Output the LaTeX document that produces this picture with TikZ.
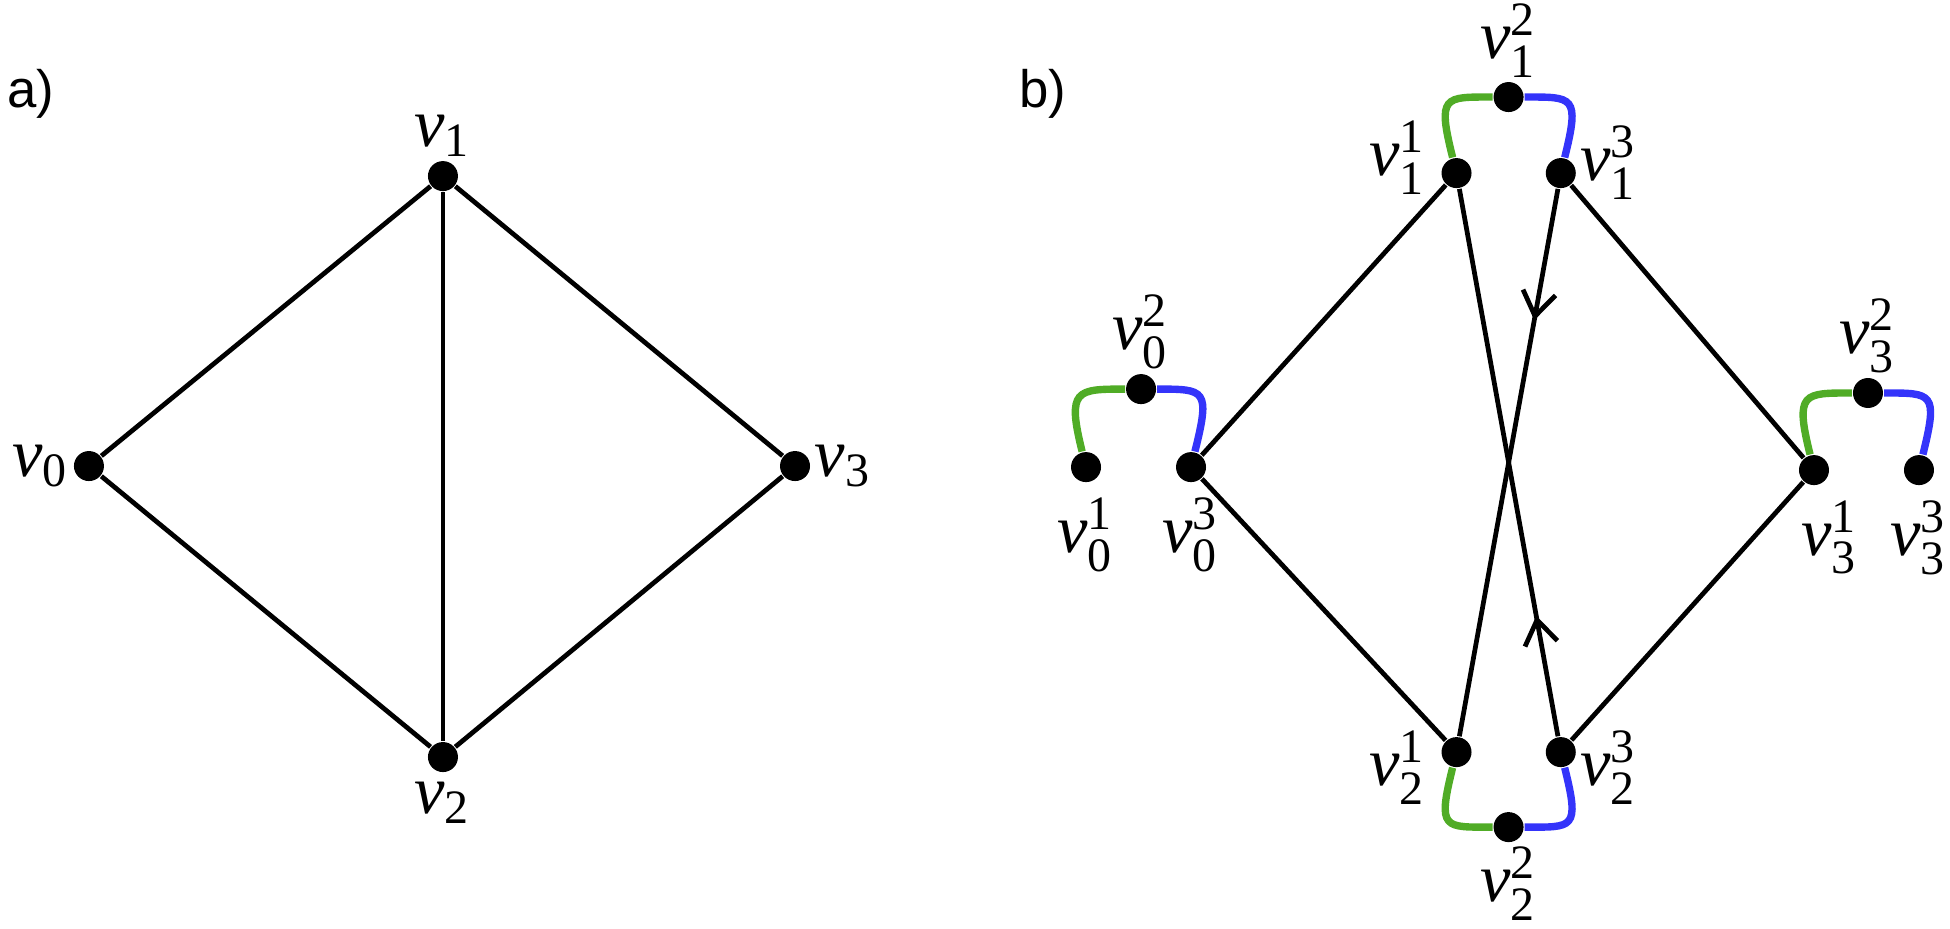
\documentclass[tikz,border=0pt]{standalone}
\usepackage{amsmath}
\usepackage{fontspec}
\setmainfont{Liberation Serif}
\newfontfamily\panelfont{Liberation Sans}
\usetikzlibrary{arrows.meta, positioning, decorations.markings}
\definecolor{arcgreen}{RGB}{80, 172, 38}
\definecolor{arcblue}{RGB}{52, 52, 250}
\newcommand{\va}[1]{\textit{v}$_{\text{#1}}$}
\newcommand{\vb}[2]{\textit{v}$^{\text{#2}}_{\text{#1}}$}

\begin{document}
\begin{tikzpicture}[
  vtx/.style={circle, fill=black, inner sep=0pt, minimum size=0.2cm},
  lbl/.style={inner sep=0.5pt, font=\fontsize{13}{15}\selectfont},
  panel/.style={inner sep=0pt, anchor=base west, font=\panelfont\fontsize{10}{12}\selectfont},
  edge/.style={line width=0.9pt},
  garc/.style={line width=1.4pt, color=arcgreen},
  barc/.style={line width=1.4pt, color=arcblue},
  midarrow/.style={edge, postaction={decorate},
    decoration={markings, mark=at position #1 with {\arrow{Straight Barb[length=1.6mm, width=2.2mm]}}}},
]
  \useasboundingbox (0,0) rectangle (13,6.187);

  % panel a)
  \node[panel] (pa) at (0.04, 5.467) {a)};
  \node[vtx] (a0) at (0.593, 3.08) {};
  \node[vtx] (a1) at (2.953, 5.013) {};
  \node[vtx] (a2) at (2.953, 1.14) {};
  \node[vtx] (a3) at (5.3, 3.08) {};
  \node[lbl, above=0pt of a1] (la1) {\va{1}};
  \node[lbl, left=0pt of a0] (la0) {\va{0}};
  \node[lbl, right=0pt of a3] (la3) {\va{3}};
  \node[lbl, below=1pt of a2] (la2) {\va{2}};

  \draw[edge] (a0) -- (a1);
  \draw[edge] (a1) -- (a3);
  \draw[edge] (a3) -- (a2);
  \draw[edge] (a2) -- (a0);
  \draw[edge] (a1) -- (a2);

  % panel b)
  \node[panel] (pb) at (6.787, 5.467) {b)};
  \node[vtx] (v01) at (7.24, 3.073) {};
  \node[vtx] (v02) at (7.607, 3.593) {};
  \node[vtx] (v03) at (7.94, 3.073) {};
  \node[vtx] (v11) at (9.71, 5.033) {};
  \node[vtx] (v12) at (10.057, 5.54) {};
  \node[vtx] (v13) at (10.405, 5.033) {};
  \node[vtx] (v21) at (9.71, 1.173) {};
  \node[vtx] (v22) at (10.057, 0.673) {};
  \node[vtx] (v23) at (10.405, 1.173) {};
  \node[vtx] (v31) at (12.093, 3.053) {};
  \node[vtx] (v32) at (12.453, 3.567) {};
  \node[vtx] (v33) at (12.793, 3.053) {};

  \node[lbl, above=0pt of v02] (l02) {\vb{0}{2}};
  \node[lbl, below=2pt of v01] (l01) {\vb{0}{1}};
  \node[lbl, below=2pt of v03] (l03) {\vb{0}{3}};
  \node[lbl, above=0pt of v12] (l12) {\vb{1}{2}};
  \node[lbl, left=2pt of v11, yshift=3pt] (l11) {\vb{1}{1}};
  \node[lbl, right=0pt of v13, yshift=2pt] (l13) {\vb{1}{3}};
  \node[lbl, left=2pt of v21, yshift=-3pt] (l21) {\vb{2}{1}};
  \node[lbl, right=0pt of v23, yshift=-3pt] (l23) {\vb{2}{3}};
  \node[lbl, below=0pt of v22] (l22) {\vb{2}{2}};
  \node[lbl, above=0pt of v32] (l32) {\vb{3}{2}};
  \node[lbl, below=2pt of v31, xshift=3pt] (l31) {\vb{3}{1}};
  \node[lbl, below=2pt of v33] (l33) {\vb{3}{3}};

  % loops
  \draw[garc] (v01) .. controls +(-0.13,0.52) and +(-0.43,0) .. (v02);
  \draw[barc] (v02) .. controls +(0.43,0) and +(0.13,0.52) .. (v03);
  \draw[garc] (v11) .. controls +(-0.13,0.52) and +(-0.43,0) .. (v12);
  \draw[barc] (v12) .. controls +(0.43,0) and +(0.13,0.52) .. (v13);
  \draw[garc] (v21) .. controls +(-0.13,-0.52) and +(-0.43,0) .. (v22);
  \draw[barc] (v22) .. controls +(0.43,0) and +(0.13,-0.52) .. (v23);
  \draw[garc] (v31) .. controls +(-0.13,0.52) and +(-0.43,0) .. (v32);
  \draw[barc] (v32) .. controls +(0.43,0) and +(0.13,0.52) .. (v33);

  \draw[edge] (v03) -- (v11);
  \draw[edge] (v03) -- (v21);
  \draw[edge] (v31) -- (v13);
  \draw[edge] (v31) -- (v23);
  \draw[midarrow=0.24] (v13) -- (v21);
  \draw[midarrow=0.22] (v23) -- (v11);
\end{tikzpicture}
\end{document}
